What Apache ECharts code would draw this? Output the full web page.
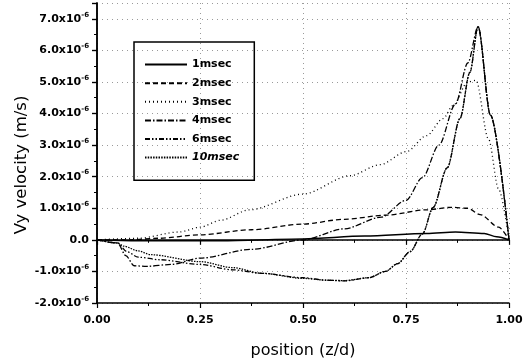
<!DOCTYPE html>
<html>
<head>
<meta charset="utf-8">
<script src="https://cdn.jsdelivr.net/npm/echarts@6/dist/echarts.min.js"></script>
<style>html,body{margin:0;padding:0;background:#fff}#c{width:528px;height:364px}</style>
</head>
<body>
<div id="c"></div>
<script>
// Vy velocity in units of 1e-6 m/s, position z/d
const names = ['1msec', '2msec', '3msec', '4msec', '6msec', '10msec'];
const s1ms = [[0,0],[0.1,-0.03],[0.3,-0.03],[0.5,0.03],[0.65,0.12],[0.8,0.2],[0.87,0.25],[0.94,0.2],[0.97,0.1],[1.0,0]];
const s2ms = [[0,0],[0.08,0],[0.15,0.05],[0.25,0.16],[0.375,0.32],[0.5,0.5],[0.6,0.65],[0.7,0.78],[0.8,0.95],[0.86,1.03],[0.9,1.0],[0.93,0.8],[0.975,0.4],[1.0,0]];
const s3ms = [[0,0],[0.1,0.05],[0.2,0.25],[0.25,0.4],[0.3,0.62],[0.37,0.95],[0.5,1.45],[0.614,2.03],[0.687,2.38],[0.752,2.8],[0.8,3.3],[0.84,3.84],[0.864,4.25],[0.9,5.0],[0.92,5.05],[0.95,3.2],[0.975,1.6],[1.0,0]];
const s4ms = [[0,0],[0.05,-0.1],[0.07,-0.5],[0.09,-0.82],[0.12,-0.84],[0.18,-0.78],[0.25,-0.58],[0.375,-0.3],[0.5,0],[0.6,0.35],[0.69,0.72],[0.75,1.25],[0.79,1.97],[0.83,3.0],[0.87,4.3],[0.9,5.6],[0.925,6.75],[0.955,3.95],[1.0,0]];
const s6ms = [[0,0],[0.05,-0.1],[0.072,-0.37],[0.1,-0.55],[0.153,-0.63],[0.25,-0.78],[0.33,-0.95],[0.4,-1.06],[0.5,-1.2],[0.56,-1.28],[0.6,-1.3],[0.66,-1.2],[0.7,-1.0],[0.73,-0.75],[0.76,-0.37],[0.79,0.19],[0.816,1.03],[0.85,2.28],[0.881,3.84],[0.905,5.3],[0.925,6.75],[0.955,3.95],[1.0,0]];
const s10ms = [[0,0],[0.05,-0.1],[0.065,-0.2],[0.1,-0.35],[0.13,-0.47],[0.25,-0.69],[0.33,-0.88],[0.4,-1.06],[0.5,-1.22],[0.56,-1.28],[0.6,-1.29],[0.66,-1.2],[0.7,-1.0],[0.73,-0.75],[0.76,-0.37],[0.79,0.19],[0.816,1.03],[0.85,2.28],[0.881,3.84],[0.905,5.3],[0.925,6.75],[0.955,3.95],[1.0,0]];
const xTicks = ['0.00', '0.25', '0.50', '0.75', '1.00'];

const seriesData = [s1ms, s2ms, s3ms, s4ms, s6ms, s10ms];
const dashes = ['solid', [5, 3], [1, 3], [6, 2, 1.5, 2], [5, 2, 1.5, 2, 1.5, 2], [1.5, 1.2]];

const FONT = 'DejaVu Sans, Liberation Sans, Arial, sans-serif';
const chart = echarts.init(document.getElementById('c'));

function yLabel(v) {
  if (Math.abs(v - 7.5) < 1e-9) return '';
  if (Math.abs(v) < 1e-9) return '{a|0.0}';
  return '{a|' + v.toFixed(1) + 'x10}{b|-6}';
}

const gridLine = { show: true, lineStyle: { color: '#9a9a9a', type: [1, 4], width: 1 } };

chart.setOption({
  animation: false,
  backgroundColor: '#fff',
  grid: { left: 97, right: 19, top: 3, bottom: 57 },
  legend: {
    orient: 'vertical',
    left: 134, top: 42,
    padding: [17, 15, 17, 10],
    borderColor: '#000', borderWidth: 1.5,
    itemWidth: 42, itemHeight: 14, itemGap: 7.4,
    itemStyle: { opacity: 0 },
    textStyle: { fontFamily: FONT, fontSize: 11, fontWeight: 'bold', color: '#000' },
    data: names.map((n, i) => ({ name: n, textStyle: i === 5 ? { fontStyle: 'italic' } : {} }))
  },
  xAxis: [{
    type: 'value', min: 0, max: 1, interval: 0.25,
    name: 'position (z/d)', nameLocation: 'middle', nameGap: 40, nameMoveOverlap: false,
    nameTextStyle: { fontFamily: FONT, fontSize: 16, color: '#000' },
    axisLine: { onZero: false, lineStyle: { color: '#000', width: 1.5 } },
    axisTick: { inside: false, length: 5, lineStyle: { color: '#000', width: 1.2 } },
    minorTick: { show: true, splitNumber: 2, length: 3, lineStyle: { color: '#000' } },
    axisLabel: { fontFamily: FONT, fontSize: 11, fontWeight: 'bold', color: '#000', margin: 12,
      formatter: v => xTicks[Math.round(v * 4)] },
    splitLine: gridLine
  }, {
    type: 'value', min: 0, max: 1, interval: 0.25, position: 'top',
    axisLine: { show: true, lineStyle: { color: '#000', width: 1.5 } },
    axisTick: { inside: true, length: 5, lineStyle: { color: '#000', width: 1.2 } },
    minorTick: { show: true, splitNumber: 2, length: 3, lineStyle: { color: '#000' } },
    axisLabel: { show: false }, splitLine: { show: false }
  }],
  yAxis: [{
    type: 'value', min: -2, max: 7.5, interval: 1,
    name: 'Vy velocity (m/s)', nameLocation: 'middle', nameGap: 67, nameMoveOverlap: false,
    nameTextStyle: { fontFamily: FONT, fontSize: 16.5, color: '#000', padding: [0, 24, 0, 0] },
    axisLine: { onZero: false, lineStyle: { color: '#000', width: 1.5 } },
    axisTick: { inside: false, length: 5, lineStyle: { color: '#000', width: 1.2 } },
    minorTick: { show: true, splitNumber: 2, length: 3, lineStyle: { color: '#000' } },
    axisLabel: {
      margin: 8, formatter: yLabel,
      rich: {
        a: { fontFamily: FONT, fontSize: 11, fontWeight: 'bold', color: '#000' },
        b: { fontFamily: FONT, fontSize: 7, fontWeight: 'bold', color: '#000', padding: [0, 0, 8, 0] }
      }
    },
    splitLine: gridLine
  }, {
    type: 'value', min: -2, max: 7.5, interval: 1, position: 'right',
    axisLine: { show: true, lineStyle: { color: '#000', width: 1.5 } },
    axisTick: { inside: true, length: 5, lineStyle: { color: '#000', width: 1.2 } },
    minorTick: { show: true, splitNumber: 2, length: 3, lineStyle: { color: '#000' } },
    axisLabel: { show: false }, splitLine: { show: false }
  }],
  series: names.map((n, i) => ({
    name: n, type: 'line', data: seriesData[i],
    xAxisIndex: 0, yAxisIndex: 0,
    showSymbol: false, symbol: 'none',
    smooth: 0.3, smoothMonotone: 'x',
    lineStyle: { color: '#000', width: i === 0 ? 1.4 : 1.3, type: dashes[i] },
    itemStyle: { color: '#000' }
  }))
});
</script>
</body>
</html>
